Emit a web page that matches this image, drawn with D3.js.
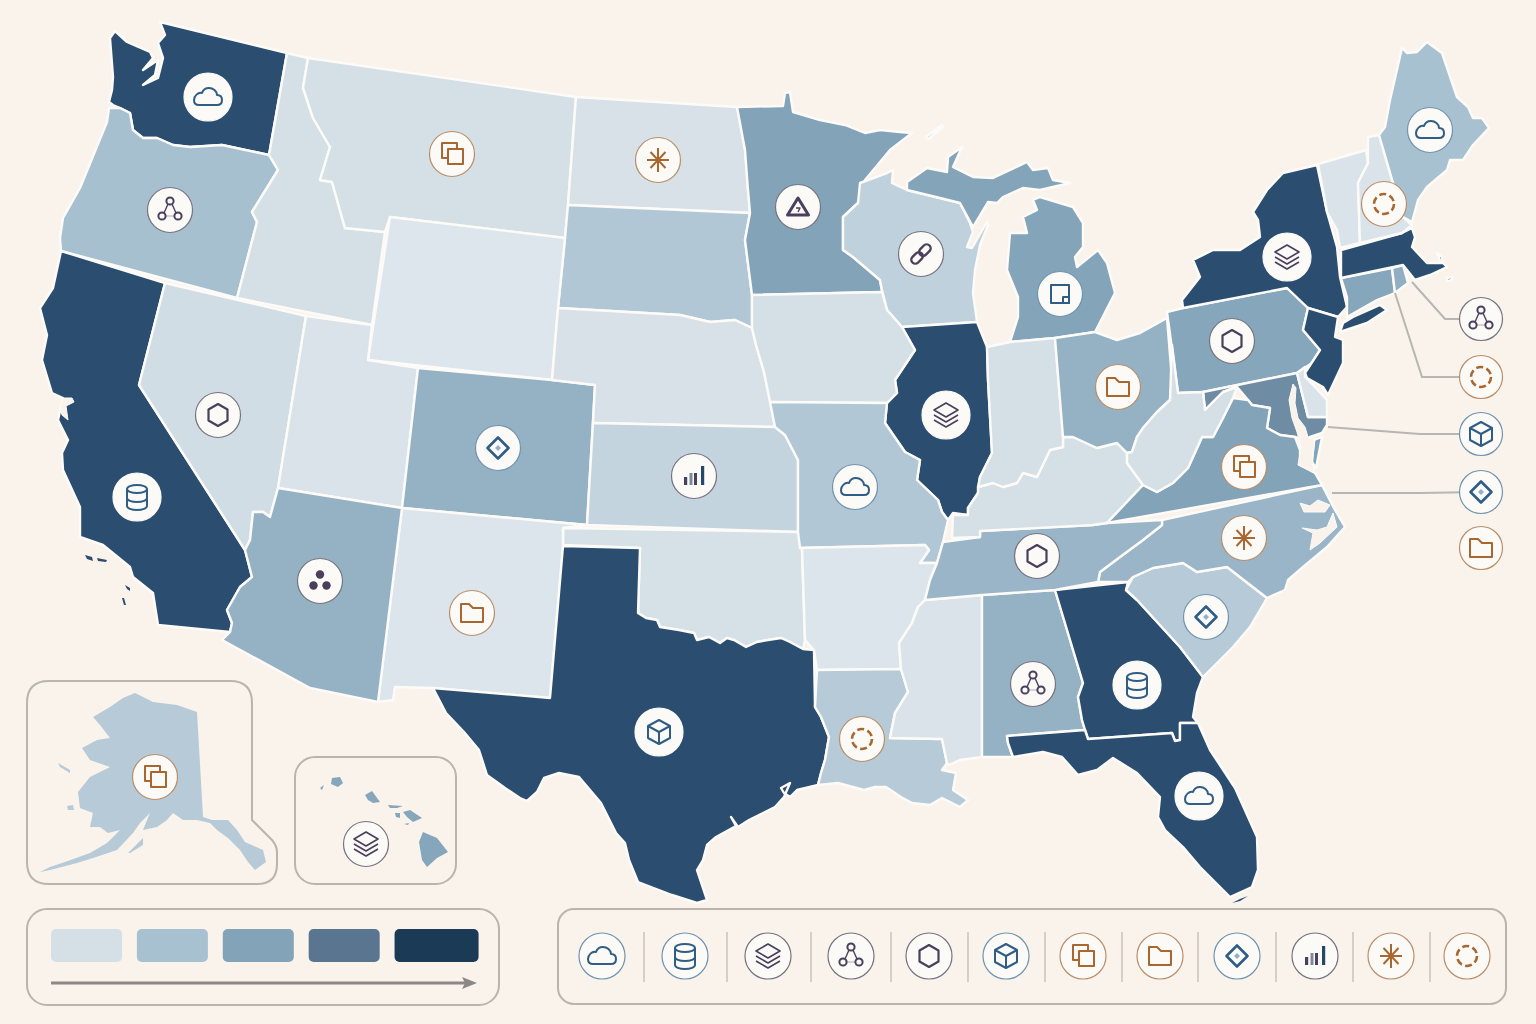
<!DOCTYPE html>
<html>
<head>
<meta charset="utf-8">
<script src="https://cdn.jsdelivr.net/npm/d3@7"></script>
<style>
  html, body { margin: 0; padding: 0; background: #f9f3ec; }
  svg { display: block; }
</style>
</head>
<body>
<svg id="map" width="1536" height="1024"></svg>
<script>
// state outlines (map units are picture pixels)
const WA = [[[160,22],[287,53],[269,155],[222,145],[190,147],[173,145],[157,138],[143,138],[133,130],[130,113],[120,108],[113,105],[109,102],[112,90],[113,77],[110,38],[115,31],[127,42],[150,52],[153,58],[143,70],[158,60],[155,75],[143,85],[158,78],[163,58],[158,43],[165,35]]];
const OR = [[[109,108],[120,108],[130,113],[133,130],[143,138],[157,138],[173,145],[190,147],[222,145],[269,155],[278,170],[252,212],[257,222],[237,298],[61,251],[60,238],[63,218],[80,188],[107,122]]];
const CA = [[[61,251],[165,283],[139,385],[245,550],[252,577],[240,587],[227,610],[232,623],[230,632],[158,625],[153,593],[133,577],[130,567],[103,545],[80,537],[80,507],[63,470],[62,453],[68,440],[58,420],[63,398],[52,393],[42,360],[47,335],[40,308],[53,288]]];
const NV = [[[165,283],[306,316],[278,488],[270,517],[263,512],[253,512],[250,540],[245,550],[139,385]]];
const ID = [[[287,53],[308,58],[303,88],[313,118],[330,147],[320,180],[332,182],[345,228],[385,232],[372,325],[237,298],[257,222],[252,212],[278,170],[269,155]]];
const MT = [[[308,58],[576,97],[568,205],[565,238],[390,217],[385,232],[345,228],[332,182],[320,180],[330,147],[313,118],[303,88]]];
const ND = [[[576,97],[737,107],[745,150],[748,190],[750,213],[568,205]]];
const SD = [[[568,205],[750,213],[745,240],[752,295],[752,328],[735,320],[710,322],[680,315],[558,308],[565,238]]];
const WY = [[[390,217],[565,238],[558,308],[552,380],[368,360]]];
const UT = [[[306,316],[372,325],[368,360],[418,368],[402,508],[278,488]]];
const CO = [[[418,368],[552,380],[595,385],[587,525],[402,508]]];
const NE = [[[558,308],[680,315],[710,322],[735,320],[752,328],[756,345],[764,372],[770,400],[775,427],[593,423],[595,385],[552,380]]];
const KS = [[[593,423],[775,427],[785,435],[798,460],[798,532],[587,525]]];
const OK = [[[563,528],[798,532],[802,548],[805,640],[803,649],[790,642],[781,638],[768,640],[757,642],[746,647],[734,640],[727,638],[720,643],[709,637],[697,640],[694,633],[679,630],[660,627],[657,620],[646,618],[638,613],[640,548],[563,545]]];
const NM = [[[402,508],[587,525],[563,528],[563,546],[550,698],[433,688],[395,687],[393,700],[378,702]]];
const AZ = [[[278,488],[402,508],[378,702],[310,688],[222,640],[230,632],[232,623],[227,610],[240,587],[252,577],[245,550],[250,540],[253,512],[263,512],[270,517]]];
const TX = [[[563,546],[640,548],[638,613],[646,618],[657,620],[660,627],[679,630],[694,633],[697,640],[709,637],[720,643],[727,638],[734,640],[746,647],[757,642],[768,640],[781,638],[790,642],[803,649],[814,650],[815,707],[821,717],[829,737],[825,760],[821,773],[818,785],[797,790],[790,797],[784,793],[781,788],[790,783],[784,797],[775,807],[749,820],[738,827],[731,817],[736,826],[716,837],[707,845],[703,860],[697,870],[707,900],[697,903],[672,895],[638,882],[629,860],[625,843],[616,833],[601,803],[579,777],[559,773],[544,778],[537,792],[527,801],[520,798],[505,788],[487,775],[479,750],[464,732],[446,713],[433,688],[550,698]]];
const MN = [[[737,107],[783,106],[785,93],[790,92],[793,112],[820,120],[845,125],[865,133],[880,130],[900,132],[912,133],[890,150],[865,180],[858,203],[843,217],[843,250],[853,257],[880,280],[882,292],[752,295],[745,240],[750,213],[748,190],[745,150]]];
const WI = [[[860,183],[887,173],[893,170],[892,183],[907,190],[940,198],[960,203],[970,223],[973,232],[967,247],[972,248],[987,222],[988,225],[980,245],[975,270],[973,293],[977,322],[902,327],[887,310],[882,290],[880,280],[853,257],[843,250],[843,217],[858,203]]];
const MI = [
  [[[907,182],[927,168],[947,172],[948,157],[962,147],[953,167],[973,177],[993,178],[1027,162],[1033,170],[1048,168],[1053,180],[1070,183],[1040,190],[1023,188],[1003,197],[997,203],[988,202],[973,227],[960,203],[940,198],[907,190]]],
  [[[1033,200],[1040,197],[1073,207],[1083,223],[1083,247],[1075,257],[1077,267],[1098,250],[1107,263],[1115,293],[1095,332],[1055,338],[1010,342],[1018,317],[1018,297],[1007,270],[1010,233],[1027,233],[1023,217],[1037,210]]],
  [[[926,137],[942,125],[943,127],[928,139]]]
];
const IL = [[[902,327],[977,322],[987,347],[988,380],[992,453],[980,477],[978,493],[968,508],[968,515],[953,513],[948,520],[942,512],[938,500],[917,480],[920,460],[905,452],[885,423],[887,403],[897,393],[895,380],[915,350]]];
const IA = [[[752,295],[882,292],[887,310],[902,327],[915,350],[895,380],[897,393],[887,403],[770,402],[764,372],[756,345],[752,328]]];
const MO = [[[770,402],[887,403],[885,423],[905,452],[920,460],[917,480],[938,500],[942,512],[948,520],[943,542],[937,563],[920,563],[929,550],[925,545],[800,548],[798,532],[798,460],[785,435],[775,427]]];
const AR = [[[800,548],[925,545],[929,550],[920,563],[937,563],[930,580],[925,600],[918,607],[912,623],[899,643],[901,669],[817,670],[814,650],[805,640],[802,548]]];
const LA = [[[817,670],[901,669],[908,692],[895,713],[890,738],[942,739],[947,763],[942,770],[956,773],[953,790],[968,800],[960,807],[942,798],[930,805],[912,803],[901,797],[886,787],[875,787],[864,790],[838,783],[818,785],[821,773],[825,760],[829,737],[821,717],[815,707]]];
const MS = [[[925,600],[982,595],[982,757],[960,760],[949,765],[947,763],[942,739],[890,738],[895,713],[908,692],[901,669],[899,643],[912,623],[918,607]]];
const AL = [[[982,595],[1055,590],[1083,683],[1078,697],[1082,720],[1085,730],[1007,736],[1008,743],[1013,757],[982,757]]];
const GA = [[[1055,590],[1128,582],[1126,590],[1137,600],[1180,647],[1203,677],[1197,693],[1193,717],[1198,723],[1180,723],[1180,740],[1175,741],[1172,733],[1088,739],[1085,730],[1082,720],[1078,697],[1083,683]]];
const FL = [[[1007,736],[1085,730],[1088,739],[1172,733],[1175,741],[1180,740],[1180,723],[1198,723],[1210,750],[1235,788],[1257,837],[1258,870],[1252,887],[1230,897],[1223,890],[1200,867],[1183,847],[1165,830],[1158,817],[1160,797],[1137,773],[1113,758],[1097,770],[1078,775],[1062,757],[1043,752],[1013,757],[1008,743]]];
const SC = [[[1126,590],[1133,577],[1153,568],[1183,563],[1197,572],[1227,567],[1267,598],[1250,627],[1233,647],[1213,667],[1203,677],[1180,647],[1137,600]]];
const NC = [[[1162,520],[1322,485],[1335,510],[1345,527],[1327,547],[1303,567],[1288,580],[1285,590],[1267,598],[1227,567],[1197,572],[1183,563],[1153,568],[1133,577],[1128,582],[1098,582],[1100,572],[1120,557],[1143,540],[1162,525]]];
const TN = [[[943,542],[980,537],[980,531],[1093,525],[1107,523],[1162,520],[1162,525],[1143,540],[1120,557],[1100,572],[1098,582],[1055,590],[982,595],[925,600],[930,580],[937,563]]];
const KY = [[[952,538],[980,537],[980,531],[1093,525],[1107,523],[1143,485],[1127,463],[1127,453],[1117,443],[1097,448],[1073,437],[1063,437],[1063,447],[1050,450],[1037,477],[1023,473],[1017,483],[1003,487],[993,483],[978,487],[978,493],[968,508],[968,515],[953,515]]];
const IN = [[[987,347],[1010,342],[1055,338],[1063,437],[1063,447],[1050,450],[1037,477],[1023,473],[1017,483],[1003,487],[993,483],[978,487],[980,477],[992,453],[988,380]]];
const OH = [[[1055,338],[1095,332],[1117,340],[1140,333],[1167,318],[1172,380],[1170,400],[1157,412],[1143,428],[1137,437],[1132,452],[1127,453],[1117,443],[1097,448],[1073,437],[1063,437]]];
const PA = [[[1167,312],[1183,308],[1287,288],[1308,308],[1303,330],[1320,350],[1312,363],[1297,373],[1203,392],[1178,393]]];
const NY = [
  [[[1317,165],[1283,173],[1267,190],[1253,212],[1258,220],[1260,237],[1240,250],[1213,250],[1193,260],[1200,277],[1182,300],[1183,308],[1287,288],[1308,308],[1338,317],[1347,307],[1340,277],[1337,247],[1327,212]]],
  [[[1343,323],[1340,332],[1367,323],[1387,310],[1380,305],[1353,317]]]
];
const NJ = [[[1308,308],[1338,317],[1335,337],[1343,340],[1343,363],[1328,395],[1323,387],[1307,378],[1305,373],[1320,350],[1303,330]]];
const CT = [[[1341,278],[1392,268],[1395,293],[1377,300],[1347,317],[1347,297]]];
const RI = [[[1392,268],[1403,265],[1408,283],[1395,293]]];
const MA = [
  [[[1341,250],[1402,233],[1412,228],[1415,237],[1412,247],[1427,263],[1443,263],[1447,267],[1430,275],[1415,280],[1403,265],[1341,278]]],
  [[[1437,253],[1442,257],[1443,263],[1440,260]]],
  [[[1447,278],[1452,277],[1452,280],[1447,281]]]
];
const VT = [[[1318,164],[1366,150],[1368,163],[1358,183],[1360,243],[1340,248],[1337,230],[1327,212]]];
const NH = [[[1368,137],[1379,135],[1390,173],[1403,217],[1412,225],[1402,233],[1360,243],[1358,183],[1368,163]]];
const ME = [[[1379,135],[1385,127],[1390,100],[1402,48],[1407,53],[1417,52],[1427,42],[1442,53],[1457,97],[1468,107],[1473,118],[1482,118],[1489,128],[1473,145],[1463,160],[1450,160],[1447,170],[1427,187],[1418,200],[1412,222],[1403,217]]];
const MD = [[[1203,392],[1297,373],[1308,417],[1327,417],[1327,425],[1322,433],[1310,437],[1305,440],[1295,437],[1280,435],[1267,428],[1270,408],[1252,405],[1248,400],[1237,387],[1223,392],[1205,410]]];
const DE = [[[1297,373],[1305,367],[1305,377],[1313,385],[1327,400],[1327,417],[1308,417]]];
const VA = [
  [[[1107,523],[1143,485],[1157,492],[1173,483],[1188,468],[1202,437],[1213,437],[1223,418],[1233,398],[1248,400],[1252,405],[1270,408],[1267,428],[1280,435],[1295,437],[1300,450],[1300,465],[1315,473],[1322,485]]],
  [[[1314,440],[1322,437],[1316,468],[1312,462]]]
];
const WV = [[[1172,345],[1178,393],[1203,392],[1205,410],[1223,392],[1237,387],[1233,398],[1223,418],[1213,437],[1202,437],[1188,468],[1173,483],[1157,492],[1143,485],[1127,463],[1127,453],[1132,452],[1137,437],[1143,428],[1157,412],[1170,400]]];
const AK = [
  [[[135,693],[153,702],[177,705],[197,712],[203,817],[212,820],[228,820],[237,830],[245,842],[263,850],[266,862],[255,870],[248,862],[240,850],[228,838],[217,830],[210,823],[197,820],[183,820],[173,813],[167,820],[157,827],[143,830],[150,813],[140,823],[133,833],[117,850],[93,858],[77,863],[50,870],[40,872],[50,867],[65,862],[90,853],[107,843],[120,830],[108,833],[100,827],[90,827],[93,813],[80,808],[78,792],[90,777],[110,767],[90,760],[82,748],[97,740],[110,738],[100,725],[93,717],[110,707],[123,698]]],
  [[[58,763],[70,770],[70,773],[60,767]]],
  [[[67,806],[73,805],[74,810],[68,810]]],
  [[[128,853],[143,838],[143,845],[130,853]]]
];
const HI = [
  [[[332,778],[340,777],[343,783],[338,787],[331,784]]],
  [[[320,788],[324,785],[322,790]]],
  [[[365,795],[372,791],[380,802],[373,803],[368,800]]],
  [[[388,805],[403,806],[397,808],[390,808]]],
  [[[395,813],[400,813],[400,818],[396,817]]],
  [[[403,812],[410,810],[422,818],[413,822],[407,817]]],
  [[[404,824],[409,823],[408,825]]],
  [[[423,832],[437,838],[448,852],[437,858],[427,867],[422,860],[419,842]]]
];

const multiStates = ['MI', 'NY', 'MA', 'VA', 'AK', 'HI'];
const stateCodes = ['WA','OR','CA','NV','ID','MT','ND','SD','WY','UT','CO','NE','KS','OK','NM','AZ','TX','MN','WI','MI','IL','IA','MO','AR','LA','MS','AL','GA','FL','SC','NC','TN','KY','IN','OH','PA','NY','NJ','CT','RI','MA','VT','NH','ME','MD','DE','VA','WV','AK','HI'];
const stateRings = [WA,OR,CA,NV,ID,MT,ND,SD,WY,UT,CO,NE,KS,OK,NM,AZ,TX,MN,WI,MI,IL,IA,MO,AR,LA,MS,AL,GA,FL,SC,NC,TN,KY,IN,OH,PA,NY,NJ,CT,RI,MA,VT,NH,ME,MD,DE,VA,WV,AK,HI];
// colour position of each state on the legend ramp
const stateLevels = [3.75,1.05,3.75,0.55,0.5,0.5,0.4,0.9,0.1,0.3,1.5,0.4,0.7,0.45,0.15,1.5,3.75,2,0.75,1.95,3.75,0.5,0.9,0.15,0.85,0.3,1.5,3.75,3.75,0.85,1.4,1.4,0.5,0.5,1.5,1.9,3.75,3.75,1.9,1.6,3.75,0.3,0.3,1,2.5,0.3,2,0.5,0.85,1.9];

// water cut out of the coast
const waterBodies = [
  [[1293,384],[1289,400],[1292,418],[1297,432],[1301,447],[1298,465],[1315,473],[1312,463],[1315,440],[1308,437],[1305,427],[1298,418],[1295,403],[1296,388]],
  [[1300,503],[1304,512],[1325,512],[1330,505],[1318,500],[1310,506]],
  [[1302,528],[1313,533],[1310,550],[1320,543],[1337,527],[1333,513],[1327,527],[1317,530]],
  [[63,398],[72,398],[74,402],[66,406],[68,420],[62,415],[60,405]]
];
const coastIslands = [
  [[85,555],[92,557],[93,561],[87,559]],
  [[97,558],[107,560],[106,562],[98,561]],
  [[125,585],[130,588],[130,591],[127,589]],
  [[122,598],[124,598],[126,605],[124,605]],
  [[1232,903],[1240,899],[1248,896],[1240,901]]
];

const iconNames = ['cloud','db','layers','network','hex','cube','copy','folder','diamond','bars','asterisk','ring'];
const iconSlots = [602,685,768,851,929,1006,1083,1160,1237,1315,1391,1467];
const iconDividers = [644,727,811,891,968,1045,1122,1198,1276,1353,1430];
const badgeStates = ['WA','OR','CA','NV','MT','ND','MN','WI','MI','IL','NY','ME','NH','PA','OH','VA','NC','SC','TN','GA','AL','FL','LA','TX','MO','KS','CO','AZ','NM','AK','HI'];
const badgeIcons = ['cloud','network','db','hex','copy','asterisk','triangle','link','square','layers','layers','cloud','ring','hex','folder','copy','asterisk','diamond','hex','db','network','cloud','ring','cube','cloud','bars','diamond','dots','folder','copy','layers'];
const badgeSpots = [[208,97],[170,210],[137,497],[218,415],[452,154],[658,160],[798,207],[921,254],[1060,294],[946,415],[1287,257],[1430,130],[1384,204],[1232,341],[1118,387],[1244,467],[1244,538],[1206,617],[1037,556],[1137,685],[1033,684],[1199,796],[862,739],[659,732],[855,487],[694,476],[498,448],[320,581],[472,613],[155,777],[366,844]];

// small north-east states get a call-out at the side
const calloutIcons = ['network','ring','cube','diamond','folder'];
const calloutFrom = [[1412,282],[1395,293],[1328,427],[1332,493],null];
const calloutBend = [[1445,319],[1422,377],[1420,434],[1420,493],null];
const calloutSpots = [[1481,319],[1481,377],[1481,434],[1481,492],[1481,548]];

const legendLevels = [0.5,1,2,3,4];

const rampColor = d3.scaleLinear()
    .domain([0, 0.5, 1, 2, 3, 3.75, 4])
    .range(['#dfe7ed', '#d5e0e6', '#a8c1d1', '#82a3b8', '#5a758f', '#2a4d70', '#1b3a56']);

const blue = '#2f5d85', plum = '#4a3f5c', rust = '#a9662f';
const iconColor = {
    cloud: blue, db: blue, cube: blue, diamond: blue, square: blue,
    layers: plum, network: plum, hex: plum, triangle: plum, dots: plum, bars: plum, link: plum,
    copy: rust, folder: rust, asterisk: rust, ring: rust
};
const iconRing = { blue: '#6f93ae', plum: '#77727f', rust: '#b98e69' };

const svg = d3.select('#map');
const projection = d3.geoIdentity();
const path = d3.geoPath(projection);

function closeRing(ring) {
    return ring.concat([ring[0]]);
}

function stateFeature(code, i) {
    let rings = stateRings[i];
    let isMulti = multiStates.indexOf(code) >= 0;
    return {
        type: 'Feature',
        properties: { code: code, level: stateLevels[i] },
        geometry: isMulti
            ? { type: 'MultiPolygon', coordinates: rings.map(p => p.map(closeRing)) }
            : { type: 'Polygon', coordinates: rings.map(closeRing) }
    };
}

function ringFeature(ring) {
    return { type: 'Polygon', coordinates: [closeRing(ring)] };
}

function drawIcon(g, name) {
    let color = iconColor[name];
    let s = g.append('g')
        .attr('fill', 'none')
        .attr('stroke', color)
        .attr('stroke-width', 2)
        .attr('stroke-linejoin', 'round');

    if (name === 'cloud') {
        s.append('path').attr('d', 'M-9,8 H9 C12,8 14,6 14,3 C14,0 12,-2 9,-2 C9,-6 5,-9 1,-9 C-3,-9 -5,-7 -6,-4 C-10,-5 -14,-1 -14,3 C-14,6 -12,8 -9,8 Z');
    } else if (name === 'db') {
        s.append('path').attr('d', 'M-10,-8 A10,4 0 0 1 10,-8 A10,4 0 0 1 -10,-8 M-10,-8 V9 A10,4 0 0 0 10,9 V-8 M-10,1 A10,4 0 0 0 10,1');
    } else if (name === 'layers') {
        s.attr('stroke-width', 1.6);
        s.append('path').attr('d', 'M0,-12 L12,-5 L0,2 L-12,-5Z M-12,0 L0,7 L12,0 M-12,5 L0,12 L12,5');
    } else if (name === 'network') {
        s.append('path').attr('d', 'M-2,-6 L-6,3 M2,-6 L6,3').attr('stroke-width', 1.4);
        s.append('path').attr('d', 'M-4,6 H4').attr('stroke', '#c4c0c6').attr('stroke-width', 1.4);
        [[0, -9], [-8, 6], [8, 6]].forEach(c => {
            s.append('circle').attr('cx', c[0]).attr('cy', c[1]).attr('r', 3.6);
        });
    } else if (name === 'hex') {
        s.attr('stroke-width', 2.2);
        s.append('path').attr('d', 'M0,-11 L9.5,-5.5 V5.5 L0,11 L-9.5,5.5 V-5.5Z');
    } else if (name === 'cube') {
        s.append('path').attr('d', 'M0,-12 L11,-6 V6 L0,12 L-11,6 V-6Z M-11,-6 L0,0 L11,-6 M0,0 V12');
    } else if (name === 'copy') {
        s.append('rect').attr('x', -10).attr('y', -11).attr('width', 15).attr('height', 15);
        s.append('rect').attr('x', -4).attr('y', -5).attr('width', 15).attr('height', 15).attr('fill', '#fbfaf7');
    } else if (name === 'folder') {
        s.append('path').attr('d', 'M-11,-9 H-3 L1,-5 H11 V9 H-11Z');
    } else if (name === 'diamond') {
        s.attr('stroke-width', 2.6);
        s.append('path').attr('d', 'M0,-10.5 L10.5,0 L0,10.5 L-10.5,0Z');
        s.append('path').attr('d', 'M0,-3 L3,0 L0,3 L-3,0Z').attr('fill', '#8fb2cb').attr('stroke', 'none');
    } else if (name === 'bars') {
        s.attr('stroke', 'none');
        s.append('rect').attr('x', -10).attr('y', 1).attr('width', 3.2).attr('height', 8).attr('fill', plum);
        s.append('rect').attr('x', -4.5).attr('y', -3).attr('width', 3).attr('height', 12).attr('fill', '#7d8a9a');
        s.append('rect').attr('x', 0).attr('y', -3).attr('width', 3).attr('height', 12).attr('fill', plum);
        s.append('rect').attr('x', 7).attr('y', -10).attr('width', 3.2).attr('height', 19).attr('fill', '#24486b');
    } else if (name === 'asterisk') {
        s.attr('stroke-width', 2);
        s.append('path').attr('d', 'M0,-12 V12 M-11,0 H11 M-7.5,-8 L7.5,8 M-7.5,8 L7.5,-8');
    } else if (name === 'ring') {
        s.attr('stroke-width', 2.6);
        s.append('circle').attr('r', 10).attr('stroke-dasharray', '7 3.5');
    } else if (name === 'triangle') {
        s.attr('stroke-width', 3);
        s.append('path').attr('d', 'M0,-9 L10.5,8 L-10.5,8Z');
        s.append('path').attr('d', 'M-2,1 H2 L0,5').attr('stroke-width', 1.4);
    } else if (name === 'dots') {
        s.attr('stroke', 'none').attr('fill', color);
        [[0, -6.5], [-6.5, 4.5], [6.5, 4.5]].forEach(c => {
            s.append('circle').attr('cx', c[0]).attr('cy', c[1]).attr('r', 4.2);
        });
    } else if (name === 'link') {
        s.attr('stroke-width', 2.4).attr('transform', 'rotate(-45)');
        s.append('rect').attr('x', -12).attr('y', -4).attr('width', 13).attr('height', 8).attr('rx', 4);
        s.append('rect').attr('x', -1).attr('y', -4).attr('width', 13).attr('height', 8).attr('rx', 4);
    } else if (name === 'square') {
        s.append('rect').attr('x', -9).attr('y', -9).attr('width', 18).attr('height', 18);
        s.append('rect').attr('x', 3).attr('y', 3).attr('width', 6).attr('height', 6);
    }
}

function drawBadge(parent, spot, name, radius, ringColor) {
    let g = parent.append('g')
        .attr('transform', 'translate(' + projection(spot) + ')');
    g.append('circle')
        .attr('r', radius)
        .attr('fill', '#fbfaf7')
        .attr('stroke', ringColor)
        .attr('stroke-width', 1.2);
    drawIcon(g, name);
}

function ringFor(name) {
    let c = iconColor[name];
    return c === blue ? iconRing.blue : c === plum ? iconRing.plum : iconRing.rust;
}

//background
svg.append('rect').attr('width', 1536).attr('height', 1024).attr('fill', '#f9f3ec');

//inset frames and legend frames
const frameStroke = '#b8b5ae';
const frames = svg.append('g').attr('fill', 'none').attr('stroke', frameStroke).attr('stroke-width', 2);
frames.append('path')
    .attr('d', 'M49,681 H230 Q252,681 252,703 V820 L272,840 Q277,846 277,852 V864 Q277,884 257,884 H49 Q27,884 27,862 V703 Q27,681 49,681 Z');
frames.append('rect').attr('x', 295).attr('y', 757).attr('width', 161).attr('height', 127).attr('rx', 20);
frames.append('rect').attr('x', 27).attr('y', 909).attr('width', 472).attr('height', 96).attr('rx', 20);
frames.append('rect').attr('x', 558).attr('y', 909).attr('width', 948).attr('height', 95).attr('rx', 16);

//states
const features = stateCodes.map(stateFeature);
svg.append('g')
    .selectAll('path')
    .data(features)
    .join('path')
    .attr('d', path)
    .attr('fill', d => rampColor(d.properties.level))
    .attr('stroke', d => (d.properties.code === 'AK' || d.properties.code === 'HI') ? 'none' : '#fdfbf8')
    .attr('stroke-width', 2.4)
    .attr('stroke-linejoin', 'round');

//coast detail
svg.append('g')
    .selectAll('path')
    .data(waterBodies)
    .join('path')
    .attr('d', d => path(ringFeature(d)))
    .attr('fill', '#f9f3ec')
    .attr('stroke', '#fdfbf8');

svg.append('g')
    .selectAll('path')
    .data(coastIslands)
    .join('path')
    .attr('d', d => path(ringFeature(d)))
    .attr('fill', rampColor(3.75));

//call-out leader lines
svg.append('g')
    .selectAll('polyline')
    .data(calloutFrom.map((p, i) => p ? [p, calloutBend[i], calloutSpots[i]] : null).filter(p => p))
    .join('polyline')
    .attr('points', d => d.map(p => projection(p)).join(' '))
    .attr('fill', 'none')
    .attr('stroke', '#b8b6b0')
    .attr('stroke-width', 2);

//state badges
const badgeLayer = svg.append('g');
badgeStates.forEach((code, i) => {
    let level = stateLevels[stateCodes.indexOf(code)];
    let dark = level > 3;
    drawBadge(badgeLayer, badgeSpots[i], badgeIcons[i], dark ? 24 : 22.5, dark ? '#fbfaf7' : ringFor(badgeIcons[i]));
});

//call-out badges
calloutIcons.forEach((name, i) => {
    drawBadge(badgeLayer, calloutSpots[i], name, 21.5, ringFor(name));
});

//colour ramp legend
const swatchX = d3.scaleBand()
    .domain(legendLevels)
    .range([51, 465])
    .paddingInner(0.18);

svg.append('g')
    .selectAll('rect')
    .data(legendLevels)
    .join('rect')
    .attr('x', d => swatchX(d))
    .attr('y', 929)
    .attr('width', (d, i) => i === legendLevels.length - 1 ? 84 : 71)
    .attr('height', 33)
    .attr('rx', 5)
    .attr('fill', d => rampColor(d));

svg.append('line')
    .attr('x1', 51).attr('y1', 983).attr('x2', 466).attr('y2', 983)
    .attr('stroke', '#8b8886').attr('stroke-width', 3);
svg.append('path')
    .attr('d', 'M477,983 L462,977 L465,983 L462,989 Z')
    .attr('fill', '#8b8886');

//icon legend
const iconX = d3.scaleOrdinal()
    .domain(iconNames)
    .range(iconSlots);

const iconLegend = svg.append('g');
iconLegend.selectAll('line')
    .data(iconDividers)
    .join('line')
    .attr('x1', d => d).attr('x2', d => d)
    .attr('y1', 932).attr('y2', 982)
    .attr('stroke', '#c9c6c0').attr('stroke-width', 1.6);

iconNames.forEach(name => {
    drawBadge(iconLegend, [iconX(name), 956], name, 23, ringFor(name));
});
</script>
</body>
</html>
